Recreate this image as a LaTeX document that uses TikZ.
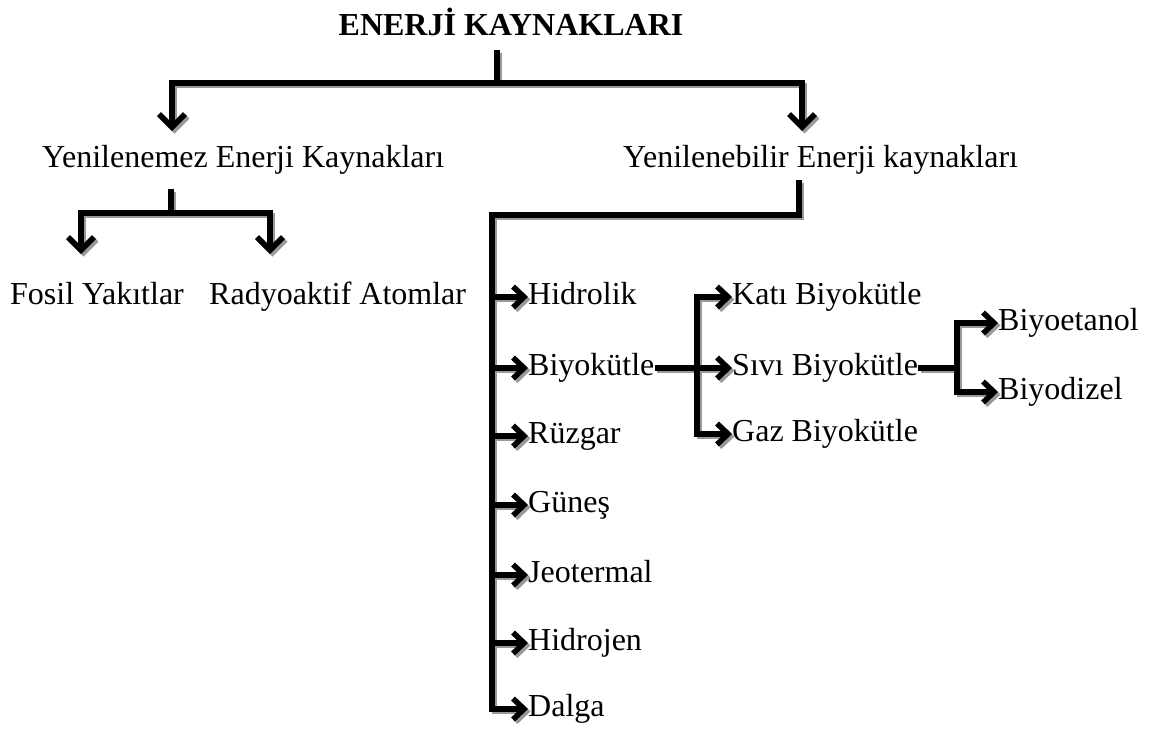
\documentclass[tikz,border=0pt]{standalone}
\usepackage{fontspec}
\setmainfont{Liberation Serif}
\usetikzlibrary{arrows.meta}
\tikzset{
  lbl/.style={inner sep=0pt, anchor=west, font=\fontsize{32}{38}\selectfont, text height=22pt, text depth=7pt},
  ttl/.style={inner sep=0pt, font=\bfseries\fontsize{32}{38}\selectfont},
  conn/.style={line width=5.5pt, black, line cap=butt, line join=miter,
    preaction={draw=black!40, line width=5.5pt, transform canvas={shift={(2.5pt,-2.5pt)}}}},
  arr/.style={conn, -{Straight Barb[length=13pt, width=26pt, line width=5.5pt]}},
  arrs/.style={conn, -{Straight Barb[length=11pt, width=21pt, line width=5.5pt]}}
}
\begin{document}
\begin{tikzpicture}[x=1pt, y=-1pt]
\useasboundingbox (0,0) rectangle (1150,729);
% nodes
\node[ttl] (t) at (511,22) {ENERJİ KAYNAKLARI};
\node[lbl] (yl) at (42,160) {Yenilenemez Enerji Kaynakları};
\node[lbl] (yr) at (623,160) {Yenilenebilir Enerji kaynakları};
\node[lbl] (fos) at (10,297) {Fosil Yakıtlar};
\node[lbl] (rad) at (209,297) {Radyoaktif Atomlar};
\node[lbl] (hid) at (528,297) {Hidrolik};
\node[lbl] (biy) at (528,368) {Biyokütle};
\node[lbl] (ruz) at (528,436) {Rüzgar};
\node[lbl] (gun) at (528,505) {Güneş};
\node[lbl] (jeo) at (528,575) {Jeotermal};
\node[lbl] (hdj) at (528,643) {Hidrojen};
\node[lbl] (dal) at (528,709) {Dalga};
\node[lbl] (kat) at (732,297) {Katı Biyokütle};
\node[lbl] (siv) at (732,368) {Sıvı Biyokütle};
\node[lbl] (gaz) at (732,434) {Gaz Biyokütle};
\node[lbl] (eta) at (998,323) {Biyoetanol};
\node[lbl] (diz) at (998,392) {Biyodizel};
% junctions
\coordinate (jt) at (497,83);
\coordinate (tl) at (172,131);
\coordinate (trr) at (802,131);
\coordinate (jl) at (171,213);
\coordinate (fl) at (81,254);
\coordinate (rl) at (270,254);
\coordinate (jr) at (799,215);
\coordinate (tr) at (492,215);
\coordinate (jb) at (697,368);
\coordinate (js) at (957,368);
% top tree
\draw[conn] (jt |- 0,50) -- (jt);
\draw[arr] (jt) -| (tl);
\draw[arr] (jt) -| (trr);
% left tree
\draw[conn] (jl |- 0,189) -- (jl);
\draw[arr] (jl) -| (fl);
\draw[arr] (jl) -| (rl);
% right tree
\draw[arrs] (jr |- 0,180) -- (jr) -- (tr) |- (dal.west);
\foreach \n in {hid,biy,ruz,gun,jeo,hdj}
  \draw[arrs] (tr |- \n.west) -- (\n.west);
% biyokutle
\draw[conn] (biy.east) -- (jb);
\draw[arrs] (jb) |- (kat.west);
\draw[arrs] (jb) -- (siv.west);
\draw[arrs] (jb) |- (gaz.west);
% sivi
\draw[conn] (siv.east) -- (js);
\draw[arrs] (js) |- (eta.west);
\draw[arrs] (js) |- (diz.west);
\end{tikzpicture}
\end{document}
